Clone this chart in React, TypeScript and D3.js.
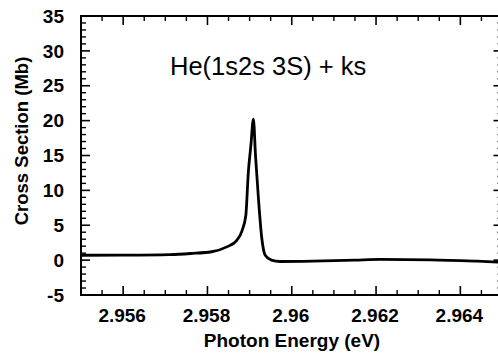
import React from "react";
import * as d3 from "d3";

const energy = [2.955, 2.956, 2.9571, 2.9576, 2.9581, 2.95846, 2.95869, 2.95882, 2.95891, 2.95897, 2.95903, 2.95909, 2.95914, 2.95921, 2.95929, 2.95937, 2.95952, 2.95972, 2.9605, 2.9615, 2.9621, 2.9633, 2.9644, 2.965];
const crossSection = [0.7, 0.72, 0.8, 0.95, 1.2, 1.9, 2.8, 4.2, 6.4, 12.6, 16.4, 20.2, 15.0, 8.8, 3.1, 0.7, 0.0, -0.2, -0.15, 0.0, 0.1, 0.05, -0.15, -0.3];

const xMajorTicks = [2.956, 2.958, 2.96, 2.962, 2.964];
const xTickLabels = ["2.956", "2.958", "2.96", "2.962", "2.964"];
const yMajorTicks = [-5, 0, 5, 10, 15, 20, 25, 30, 35];
const titleText = "He(1s2s 3S) + ks";
const xTitle = "Photon Energy (eV)";
const yTitle = "Cross Section (Mb)";

export default function App() {
  const W = 498, H = 356;
  const x = d3.scaleLinear().domain([2.955, 2.965]).range([81, 502.5]);
  const y = d3.scaleLinear().domain([-5, 35]).range([295, 16]);
  const [x0, x1] = x.range();
  const [yb, yt] = y.range();

  const xMinor = d3.range(0, 21).map((i) => 2.955 + i * 0.0005).filter((v) => !xMajorTicks.some((m) => Math.abs(m - v) < 1e-7));
  const yMinor = d3.range(-5, 36).filter((v) => v % 5 !== 0);

  const pts = energy.map((e, i) => [e, crossSection[i]] as [number, number]);
  const line = d3.line<[number, number]>().x((d) => x(d[0])).y((d) => y(d[1])).curve(d3.curveMonotoneX);

  const font = "'Liberation Sans', Arial, Helvetica, sans-serif";
  const majLen = 9, minLen = 5;

  return (
    <svg width={W} height={H} style={{ position: "absolute", left: 0, top: 0, background: "#fff" }}>
      <defs>
        <clipPath id="plot">
          <rect x={x0} y={yt} width={x1 - x0} height={yb - yt} />
        </clipPath>
      </defs>
      {/* frame */}
      <rect x={x0} y={yt} width={x1 - x0} height={yb - yt} fill="none" stroke="#000" strokeWidth={2} />
      {/* x ticks bottom & top */}
      {xMajorTicks.map((v) => (
        <g key={"xm" + v}>
          <line x1={x(v)} x2={x(v)} y1={yb} y2={yb - majLen} stroke="#000" strokeWidth={1.6} />
          <line x1={x(v)} x2={x(v)} y1={yt} y2={yt + majLen} stroke="#000" strokeWidth={1.6} />
        </g>
      ))}
      {xMinor.map((v) => (
        <g key={"xn" + v}>
          <line x1={x(v)} x2={x(v)} y1={yb} y2={yb - minLen} stroke="#000" strokeWidth={1.4} />
          <line x1={x(v)} x2={x(v)} y1={yt} y2={yt + minLen} stroke="#000" strokeWidth={1.4} />
        </g>
      ))}
      {/* y ticks left & right */}
      {yMajorTicks.map((v) => (
        <g key={"ym" + v}>
          <line x1={x0} x2={x0 + majLen} y1={y(v)} y2={y(v)} stroke="#000" strokeWidth={1.6} />
          <line x1={x1} x2={x1 - majLen} y1={y(v)} y2={y(v)} stroke="#000" strokeWidth={1.6} />
        </g>
      ))}
      {yMinor.map((v) => (
        <g key={"yn" + v}>
          <line x1={x0} x2={x0 + minLen} y1={y(v)} y2={y(v)} stroke="#000" strokeWidth={1.4} />
          <line x1={x1} x2={x1 - minLen} y1={y(v)} y2={y(v)} stroke="#000" strokeWidth={1.4} />
        </g>
      ))}
      {/* curve */}
      <path d={line(pts) || ""} fill="none" stroke="#000" strokeWidth={2.8} strokeLinejoin="round" clipPath="url(#plot)" />
      {/* tick labels */}
      {xMajorTicks.map((v, i) => (
        <text key={"xl" + v} x={x(v) - 1} y={322} textAnchor="middle" fontFamily={font} fontWeight="bold" fontSize={19}>
          {xTickLabels[i]}
        </text>
      ))}
      {yMajorTicks.map((v) => (
        <text key={"yl" + v} x={64} y={y(v)} dy="0.35em" textAnchor="end" fontFamily={font} fontWeight="bold" fontSize={19}>
          {String(v)}
        </text>
      ))}
      {/* titles */}
      <text x={292} y={347} textAnchor="middle" fontFamily={font} fontWeight="bold" fontSize={19}>{xTitle}</text>
      <text transform="translate(28,141) rotate(-90)" textAnchor="middle" fontFamily={font} fontWeight="bold" fontSize={18.5}>{yTitle}</text>
      <text x={170} y={75} fontFamily={font} fontSize={25.5}>{titleText}</text>
    </svg>
  );
}
